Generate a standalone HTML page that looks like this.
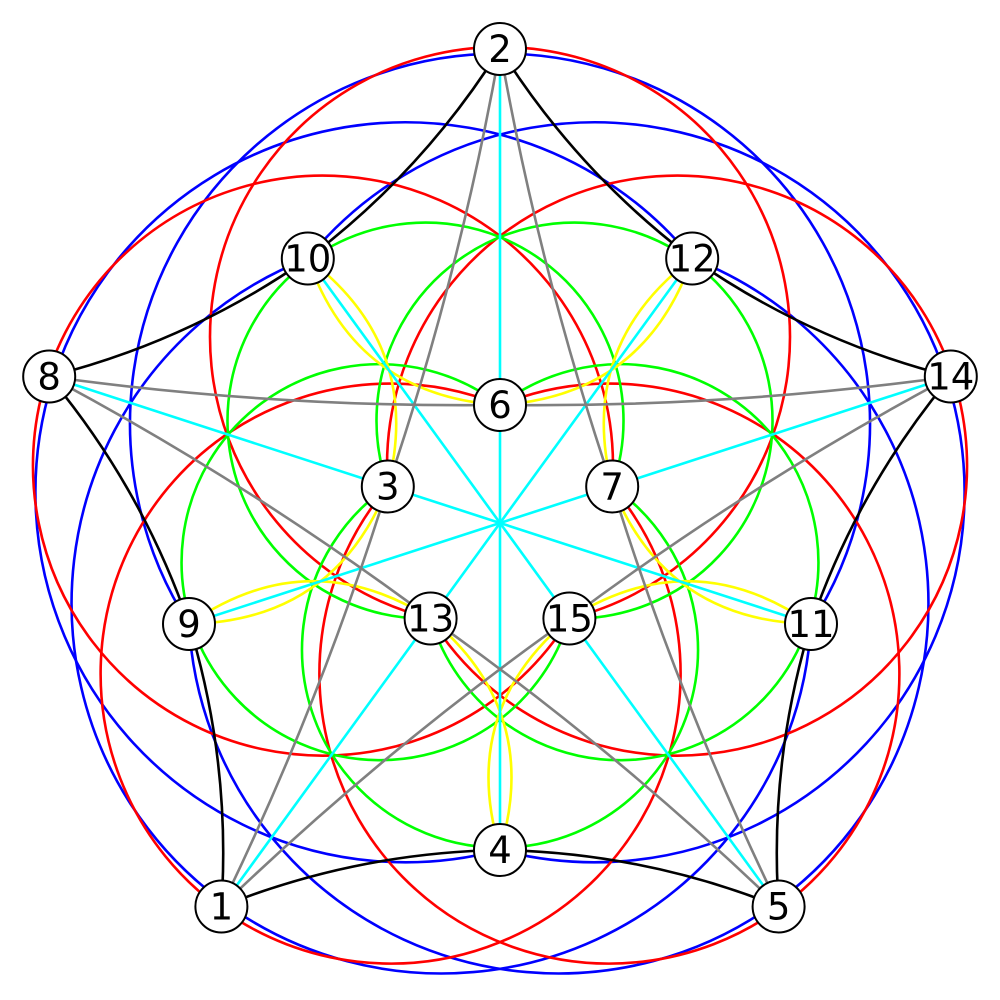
<!DOCTYPE html>
<html><head><meta charset="utf-8"><style>html,body{margin:0;padding:0;background:#fff;width:1000px;height:1000px;overflow:hidden}svg{display:block}</style></head>
<body>
<svg width="1000" height="1000" viewBox="0 0 1000 1000" xmlns="http://www.w3.org/2000/svg">
<g fill="none" stroke-width="2.6">
  <g stroke="#0000ff">
    <path d="M500,850 A370,370 0 1 1 692.2,258.5"/>
    <path d="M189,624 A370,370 0 1 1 811,624"/>
    <path d="M307.8,258.5 A370,370 0 1 1 500,850"/>
    <path d="M692.2,258.5 A370,370 0 1 1 189,624"/>
    <path d="M811,624 A370,370 0 1 1 307.8,258.5"/>
  </g>
  <g stroke="#ff0000">
    <path d="M430.6,618.5 A290,290 0 1 1 569.4,618.5"/>
    <path d="M387.8,486.5 A290,290 0 1 1 430.6,618.5"/>
    <path d="M500,405 A290,290 0 1 1 387.8,486.5"/>
    <path d="M612.2,486.5 A290,290 0 1 1 500,405"/>
    <path d="M569.4,618.5 A290,290 0 1 1 612.2,486.5"/>
  </g>
  <g stroke="#00ff00">
    <path d="M612.2,486.5 A198,198 0 1 1 387.8,486.5"/>
    <path d="M569.4,618.5 A198,198 0 1 1 500,405"/>
    <path d="M430.6,618.5 A198,198 0 1 1 612.2,486.5"/>
    <path d="M387.8,486.5 A198,198 0 1 1 569.4,618.5"/>
    <path d="M500,405 A198,198 0 1 1 430.6,618.5"/>
  </g>
  <g stroke="#ffff00">
    <path d="M500,850 Q542,711 430.6,618.5"/>
    <path d="M500,850 Q458,711 569.4,618.5"/>
    <path d="M189,624 Q334.2,621 387.8,486.5"/>
    <path d="M189,624 Q308.2,541.2 430.6,618.5"/>
    <path d="M307.8,258.5 Q355.5,395.6 500,405"/>
    <path d="M307.8,258.5 Q423.5,346.2 387.8,486.5"/>
    <path d="M692.2,258.5 Q576.5,346.2 612.2,486.5"/>
    <path d="M692.2,258.5 Q644.5,395.6 500,405"/>
    <path d="M811,624 Q691.8,541.2 569.4,618.5"/>
    <path d="M811,624 Q665.8,621 612.2,486.5"/>
  </g>
  <g stroke="#00ffff">
    <line x1="500" y1="523" x2="500" y2="49"/>
    <line x1="500" y1="523" x2="950.8" y2="376.5"/>
    <line x1="500" y1="523" x2="778.6" y2="906.5"/>
    <line x1="500" y1="523" x2="221.4" y2="906.5"/>
    <line x1="500" y1="523" x2="49.2" y2="376.5"/>
    <line x1="500" y1="523" x2="500" y2="850"/>
    <line x1="500" y1="523" x2="189" y2="624"/>
    <line x1="500" y1="523" x2="811" y2="624"/>
    <line x1="500" y1="523" x2="307.8" y2="258.5"/>
    <line x1="500" y1="523" x2="692.2" y2="258.5"/>
  </g>
  <g stroke="#808080">
    <path d="M500,49 Q460.4,272 387.8,486.5"/>
    <path d="M500,49 Q539.6,272 612.2,486.5"/>
    <path d="M950.8,376.5 Q726.5,407.7 500,405"/>
    <path d="M950.8,376.5 Q750.9,483.1 569.4,618.5"/>
    <path d="M778.6,906.5 Q679.6,702.8 612.2,486.5"/>
    <path d="M778.6,906.5 Q615.6,749.4 430.6,618.5"/>
    <path d="M221.4,906.5 Q384.4,749.4 569.4,618.5"/>
    <path d="M221.4,906.5 Q320.4,702.8 387.8,486.5"/>
    <path d="M49.2,376.5 Q249.1,483.1 430.6,618.5"/>
    <path d="M49.2,376.5 Q273.5,407.7 500,405"/>
  </g>
  <g stroke="#000">
    <path d="M500,49 Q423.1,171.3 307.8,258.5"/>
    <path d="M500,49 Q576.9,171.3 692.2,258.5"/>
    <path d="M950.8,376.5 Q810.7,341.2 692.2,258.5"/>
    <path d="M950.8,376.5 Q858.3,487.4 811,624"/>
    <path d="M778.6,906.5 Q768.9,762.3 811,624"/>
    <path d="M778.6,906.5 Q644.5,852.7 500,850"/>
    <path d="M221.4,906.5 Q355.5,852.7 500,850"/>
    <path d="M221.4,906.5 Q231.1,762.3 189,624"/>
    <path d="M49.2,376.5 Q141.7,487.4 189,624"/>
    <path d="M49.2,376.5 Q189.3,341.2 307.8,258.5"/>
  </g>
</g>
<g fill="#fff" stroke="#000" stroke-width="2">
  <circle cx="500" cy="49" r="26"/>
  <circle cx="950.8" cy="376.5" r="26"/>
  <circle cx="778.6" cy="906.5" r="26"/>
  <circle cx="221.4" cy="906.5" r="26"/>
  <circle cx="49.2" cy="376.5" r="26"/>
  <circle cx="500" cy="850" r="26"/>
  <circle cx="307.8" cy="258.5" r="26"/>
  <circle cx="692.2" cy="258.5" r="26"/>
  <circle cx="811" cy="624" r="26"/>
  <circle cx="189" cy="624" r="26"/>
  <circle cx="500" cy="405" r="26"/>
  <circle cx="387.8" cy="486.5" r="26"/>
  <circle cx="612.2" cy="486.5" r="26"/>
  <circle cx="430.6" cy="618.5" r="26"/>
  <circle cx="569.4" cy="618.5" r="26"/>
</g>
<g font-family="'DejaVu Sans','Liberation Sans',sans-serif" font-size="37" text-anchor="middle" fill="#000">
  <text x="500" y="62">2</text>
  <text x="950.8" y="389.5">14</text>
  <text x="778.6" y="919.5">5</text>
  <text x="221.4" y="919.5">1</text>
  <text x="49.2" y="389.5">8</text>
  <text x="500" y="863">4</text>
  <text x="307.8" y="271.5">10</text>
  <text x="692.2" y="271.5">12</text>
  <text x="811" y="637">11</text>
  <text x="189" y="637">9</text>
  <text x="500" y="418">6</text>
  <text x="387.8" y="499.5">3</text>
  <text x="612.2" y="499.5">7</text>
  <text x="430.6" y="631.5">13</text>
  <text x="569.4" y="631.5">15</text>
</g>
</svg>
</body></html>
